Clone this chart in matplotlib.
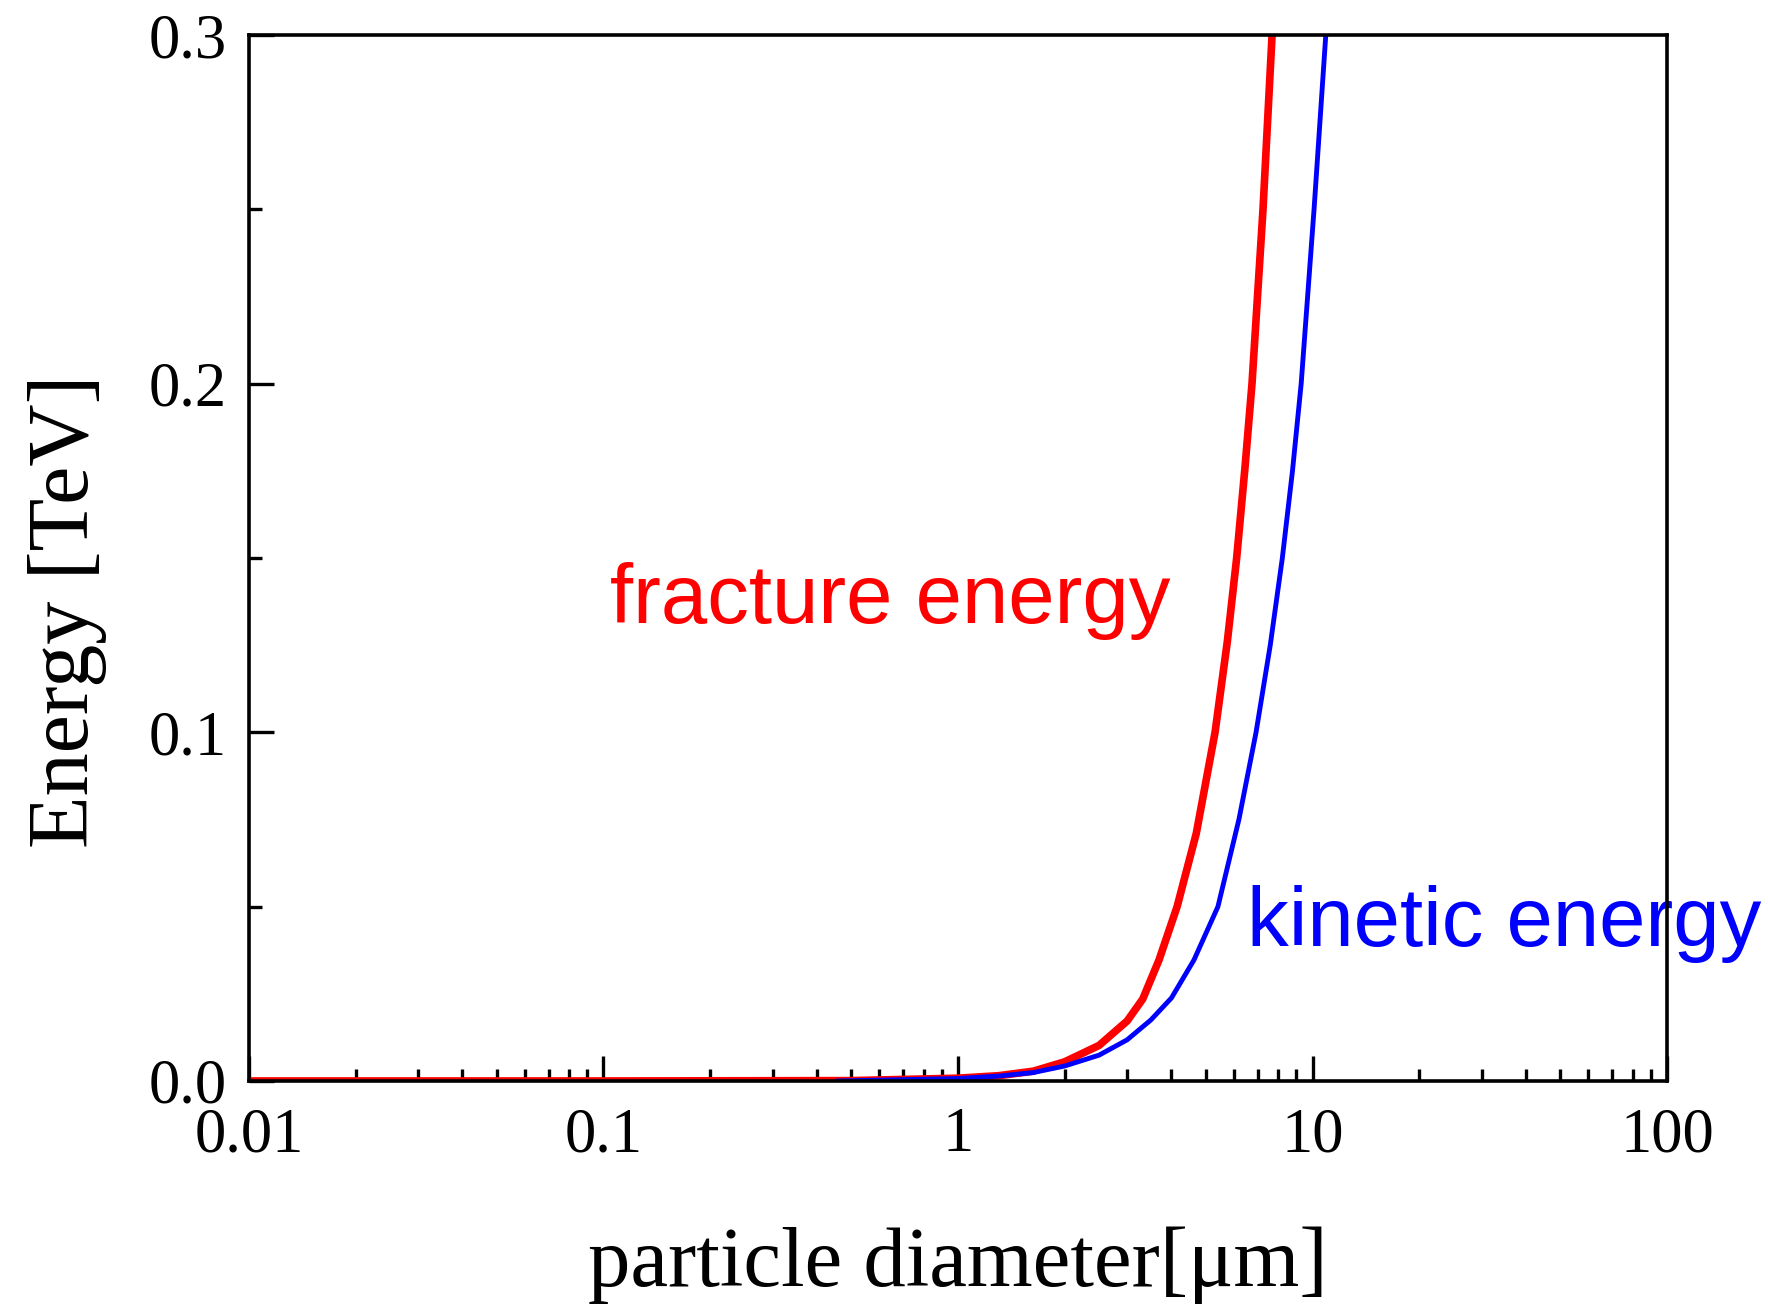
import numpy as np
import matplotlib
matplotlib.use("Agg")
import matplotlib.pyplot as plt
from matplotlib.ticker import FixedLocator, LogLocator, MultipleLocator, NullFormatter

# ── Data ──────────────────────────────────────────────────────────────────────
fracture_d = [0.01, 0.1, 0.5, 1.0, 1.3, 1.63, 2.0, 2.5, 3.0, 3.32, 3.69, 4.15,
              4.7, 5.31, 5.75, 6.11, 6.45, 6.75, 7.25, 7.69]
fracture_e = [0.0, 0.0, 0.0001, 0.0008, 0.0015, 0.0028, 0.0055, 0.0102, 0.0172,
              0.0235, 0.0347, 0.05, 0.071, 0.1, 0.126, 0.15, 0.176, 0.2, 0.25, 0.3]

kinetic_d = [0.46, 1.0, 1.3, 1.63, 2.0, 2.5, 3.0, 3.5, 4.0, 4.63, 5.41, 6.2,
             6.93, 7.6, 8.22, 8.78, 9.29, 10.1, 10.9]
kinetic_e = [0.0, 0.0007, 0.0014, 0.0024, 0.0043, 0.0074, 0.0118, 0.0175, 0.0238,
             0.0347, 0.05, 0.075, 0.1, 0.125, 0.15, 0.175, 0.2, 0.25, 0.3]

x_ticks = [0.01, 0.1, 1, 10, 100]
x_ticklabels = ["0.01", "0.1", "1", "10", "100"]
y_ticks = [0.0, 0.1, 0.2, 0.3]
y_ticklabels = ["0.0", "0.1", "0.2", "0.3"]

SERIF = "Liberation Serif"
SANS = "Liberation Sans"

fig = plt.figure(figsize=(17.68, 13.12), dpi=100)
ax = fig.add_axes([0.1408, 0.1761, 0.8021, 0.7972])

ax.plot(fracture_d, fracture_e, color="#FF0000", lw=5.5, zorder=3)
ax.plot(kinetic_d, kinetic_e, color="#0000FF", lw=3.5, zorder=4)

ax.set_xscale("log")
ax.set_xlim(0.01, 100)
ax.set_ylim(0.0, 0.3)

ax.xaxis.set_major_locator(FixedLocator(x_ticks))
ax.set_xticklabels(x_ticklabels)
ax.xaxis.set_minor_locator(LogLocator(base=10, subs=np.arange(2, 10)))
ax.xaxis.set_minor_formatter(NullFormatter())
ax.set_yticks(y_ticks)
ax.set_yticklabels(y_ticklabels)
ax.yaxis.set_minor_locator(MultipleLocator(0.05))

ax.tick_params(which="both", direction="in", top=False, right=False, width=2.4,
               labelsize=45, color="black")
ax.tick_params(which="major", length=18)
ax.tick_params(which="minor", length=9)
ax.tick_params(axis="x", which="major", pad=19)
ax.tick_params(axis="y", which="major", pad=16)
for lab in ax.get_xticklabels() + ax.get_yticklabels():
    lab.set_fontfamily(SERIF)

for sp in ax.spines.values():
    sp.set_linewidth(2.6)
    sp.set_zorder(5)

ax.set_xlabel("particle diameter[\u03bcm]", fontsize=61, family=SERIF, labelpad=44)
ax.set_ylabel("Energy [TeV]", fontsize=62, family=SERIF)
ax.yaxis.set_label_coords(-0.100, 0.449)

ax.text(0.104, 0.1313, "fracture energy", color="#FF0000", fontsize=60,
        family=SANS, ha="left", va="baseline", zorder=2)
ax.text(6.55, 0.0387, "kinetic energy", color="#0000FF", fontsize=60,
        family=SANS, ha="left", va="baseline", zorder=2, clip_on=False)

fig.savefig("out.png", dpi=100)
